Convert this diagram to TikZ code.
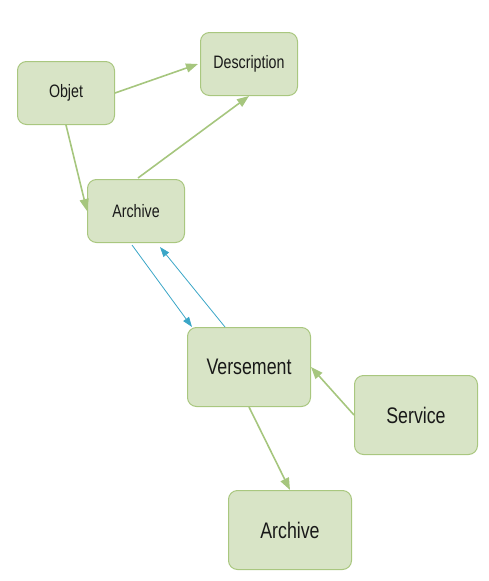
\documentclass[tikz,border=0pt]{standalone}
\usepackage{fontspec}
\setmainfont{Liberation Sans}
\newfontfamily\labfont[FakeStretch=0.79]{Liberation Sans}
\usetikzlibrary{arrows.meta,calc}
\definecolor{boxfill}{HTML}{D8E4C6}
\definecolor{boxdraw}{HTML}{A9C77F}
\definecolor{arrgreen}{HTML}{A6C67E}
\definecolor{arrblue}{HTML}{3AA6C7}
\tikzset{
  ebox/.style={draw=boxdraw, fill=boxfill, line width=1pt, rounded corners=9pt, inner sep=0pt, text=black!90},
  smallbox/.style={ebox, minimum width=97pt, minimum height=63pt, font=\labfont\fontsize{18}{20}\selectfont},
  bigbox/.style={ebox, minimum width=123pt, minimum height=79pt, font=\labfont\fontsize{22.5}{25}\selectfont},
  garrow/.style={draw=arrgreen, line width=1.6pt, -{Triangle[length=12pt,width=9pt]}, color=arrgreen},
  barrow/.style={draw=arrblue, line width=0.8pt, -{Triangle[length=10pt,width=7pt]}, color=arrblue}
}
\begin{document}
\begin{tikzpicture}[x=1pt,y=-1pt]
\useasboundingbox (0,0) rectangle (488,581);
\node[smallbox] (objet) at (66,93) {Objet};
\node[smallbox] (desc) at (249,64) {Description};
\node[smallbox] (arch1) at (136,211) {Archive};
\node[bigbox] (vers) at (249,367) {Versement};
\node[bigbox] (serv) at (416,415) {Service};
\node[bigbox] (arch2) at (290,530) {Archive};
\draw[garrow] (objet.east) -- ($(desc.west)+(-2,0)$);
\draw[garrow] ($(arch1.north)+(2,-1)$) -- (desc.south);
\draw[garrow] (objet.south) -- (arch1.west);
\draw[barrow] ($(arch1.south)+(-4,2)$) -- ($(vers.north west)+(5,0)$);
\draw[barrow] ($(vers.north)+(-24,0)$) -- ($(arch1.south)+(24,4)$);
\draw[garrow] (serv.west) -- (vers.east);
\draw[garrow] (vers.south) -- (arch2.north);
\end{tikzpicture}
\end{document}
